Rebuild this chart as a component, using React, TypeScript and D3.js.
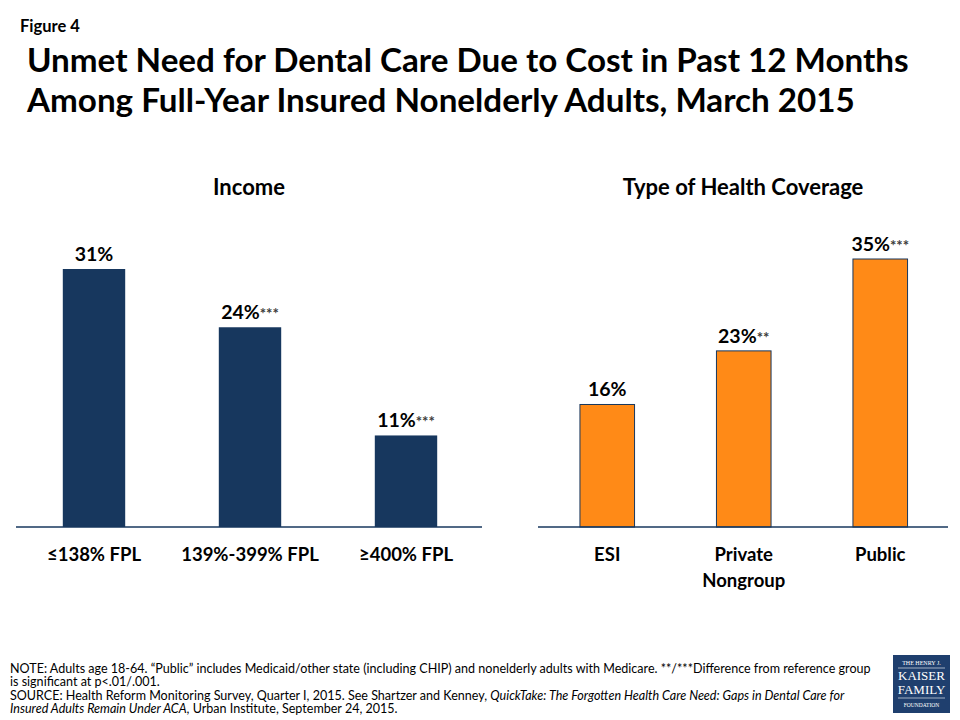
import { useEffect, useRef } from 'react';
import * as d3 from 'd3';

const incomeCats = ['≤138% FPL', '139%-399% FPL', '≥400% FPL'];
const incomeValues = [31, 24, 11];
const incomeSig = ['', '***', '***'];

const coverageCats = ['ESI', 'Private Nongroup', 'Public'];
const coverageValues = [16, 23, 35];
const coverageSig = ['', '**', '***'];

const titleLines = [
  'Unmet Need for Dental Care Due to Cost in Past 12 Months',
  'Among Full-Year Insured Nonelderly Adults, March 2015',
];

const noteLines: { text: string; italic?: boolean }[][] = [
  [{ text: 'NOTE: Adults age 18-64.  \u201cPublic\u201d includes Medicaid/other state (including CHIP) and nonelderly adults with Medicare. **/***Difference from reference group' }],
  [{ text: 'is significant at p<.01/.001.' }],
  [
    { text: 'SOURCE: Health Reform Monitoring Survey, Quarter I, 2015. See Shartzer and Kenney, ' },
    { text: 'QuickTake: The Forgotten Health Care Need: Gaps in Dental Care for', italic: true },
  ],
  [
    { text: 'Insured Adults Remain Under ACA', italic: true },
    { text: ', Urban Institute, September 24, 2015.' },
  ],
];

const FONT = 'Lato, "Open Sans", sans-serif';
const NAVY = '#17375E';
const ORANGE = '#FF8A17';

export default function App() {
  const ref = useRef<SVGSVGElement>(null);

  useEffect(() => {
    if (!ref.current) return;
    const svg = d3.select(ref.current);
    svg.selectAll('*').remove();
    svg.attr('font-family', FONT);

    svg.append('text')
      .attr('x', 20).attr('y', 32)
      .attr('font-size', 16.5).attr('font-weight', 700)
      .text('Figure 4');

    svg.append('g')
      .selectAll('text')
      .data(titleLines)
      .enter()
      .append('text')
      .attr('x', 27)
      .attr('y', (_, i) => 72 + i * 40)
      .attr('font-size', 33.2)
      .attr('font-weight', 700)
      .text((d) => d);

    const baseY = 527;

    const panel = (
      cats: string[],
      values: number[],
      sig: string[],
      title: string,
      x0: number,
      x1: number,
      axisX0: number,
      axisX1: number,
      topY: number,
      fill: string,
      stroke: string | null,
    ) => {
      const g = svg.append('g');
      const x = d3.scaleBand<string>().domain(cats).range([x0, x1]).paddingInner(0.6).paddingOuter(0.3);
      const y = d3.scaleLinear().domain([0, d3.max(values) ?? 1]).range([baseY, topY]);

      g.append('text')
        .attr('x', (axisX0 + axisX1) / 2)
        .attr('y', 195)
        .attr('text-anchor', 'middle')
        .attr('font-size', 22)
        .attr('font-weight', 700)
        .text(title);

      g.selectAll('rect')
        .data(values)
        .enter()
        .append('rect')
        .attr('x', (_, i) => x(cats[i]) ?? 0)
        .attr('y', (d) => y(d))
        .attr('width', x.bandwidth())
        .attr('height', (d) => baseY - y(d))
        .attr('fill', fill)
        .attr('stroke', stroke ?? 'none')
        .attr('stroke-width', 1);

      const lbl = g.selectAll('text.val')
        .data(values)
        .enter()
        .append('text')
        .attr('class', 'val')
        .attr('x', (_, i) => (x(cats[i]) ?? 0) + x.bandwidth() / 2)
        .attr('y', (d) => y(d) - 8)
        .attr('text-anchor', 'middle')
        .attr('font-weight', 700);
      lbl.append('tspan').attr('font-size', 19.5).text((d) => `${d}%`);
      lbl.append('tspan')
        .attr('font-size', 15)
        .attr('fill', '#3b3b3b')
        .text((_, i) => sig[i]);

      g.append('line')
        .attr('x1', axisX0).attr('x2', axisX1)
        .attr('y1', baseY).attr('y2', baseY)
        .attr('stroke', NAVY).attr('stroke-width', 1.5);

      const cl = g.selectAll('text.cat')
        .data(cats)
        .enter()
        .append('text')
        .attr('class', 'cat')
        .attr('x', (d) => (x(d) ?? 0) + x.bandwidth() / 2)
        .attr('y', 561)
        .attr('text-anchor', 'middle')
        .attr('font-size', 18.5)
        .attr('font-weight', 700);
      cl.each(function (d) {
        const words = d.includes('FPL') ? [d] : d.split(' ');
        const t = d3.select(this);
        words.forEach((w, i) => {
          t.append('tspan')
            .attr('x', (x(d) ?? 0) + x.bandwidth() / 2)
            .attr('dy', i === 0 ? 0 : 26)
            .text(w);
        });
      });
    };

    panel(incomeCats, incomeValues, incomeSig, 'Income', 16, 484, 16, 482, 269, NAVY, null);
    panel(coverageCats, coverageValues, coverageSig, 'Type of Health Coverage', 539, 948.5, 538, 948, 259, ORANGE, NAVY);

    const notes = svg.append('g').attr('font-size', 12.55).attr('fill', '#000');
    noteLines.forEach((parts, i) => {
      const t = notes.append('text').attr('x', 10).attr('y', 673 + i * 13.3);
      parts.forEach((p) => {
        t.append('tspan').attr('font-style', p.italic ? 'italic' : 'normal').text(p.text);
      });
    });

    const logo = svg.append('g').attr('transform', 'translate(893,655)');
    logo.append('rect').attr('width', 57).attr('height', 58).attr('fill', '#1F3F6E');
    const serif = '"Liberation Serif", "DejaVu Serif", serif';
    const logoText = [
      { t: 'THE HENRY J.', y: 10, s: 6 },
      { t: 'KAISER', y: 25, s: 13 },
      { t: 'FAMILY', y: 39, s: 13 },
      { t: 'FOUNDATION', y: 52, s: 5.5 },
    ];
    logo.selectAll('text')
      .data(logoText)
      .enter()
      .append('text')
      .attr('x', 28.5)
      .attr('y', (d) => d.y)
      .attr('text-anchor', 'middle')
      .attr('font-family', serif)
      .attr('font-size', (d) => d.s)
      .attr('fill', '#fff')
      .text((d) => d.t);
    logo.append('line').attr('x1', 5).attr('x2', 52).attr('y1', 13).attr('y2', 13).attr('stroke', '#fff').attr('stroke-width', 0.6);
    logo.append('line').attr('x1', 5).attr('x2', 52).attr('y1', 43).attr('y2', 43).attr('stroke', '#fff').attr('stroke-width', 0.6);
  }, []);

  return (
    <div style={{ position: 'absolute', left: 0, top: 0, width: 960, height: 720, background: '#fff' }}>
      <svg ref={ref} width={960} height={720} />
    </div>
  );
}
